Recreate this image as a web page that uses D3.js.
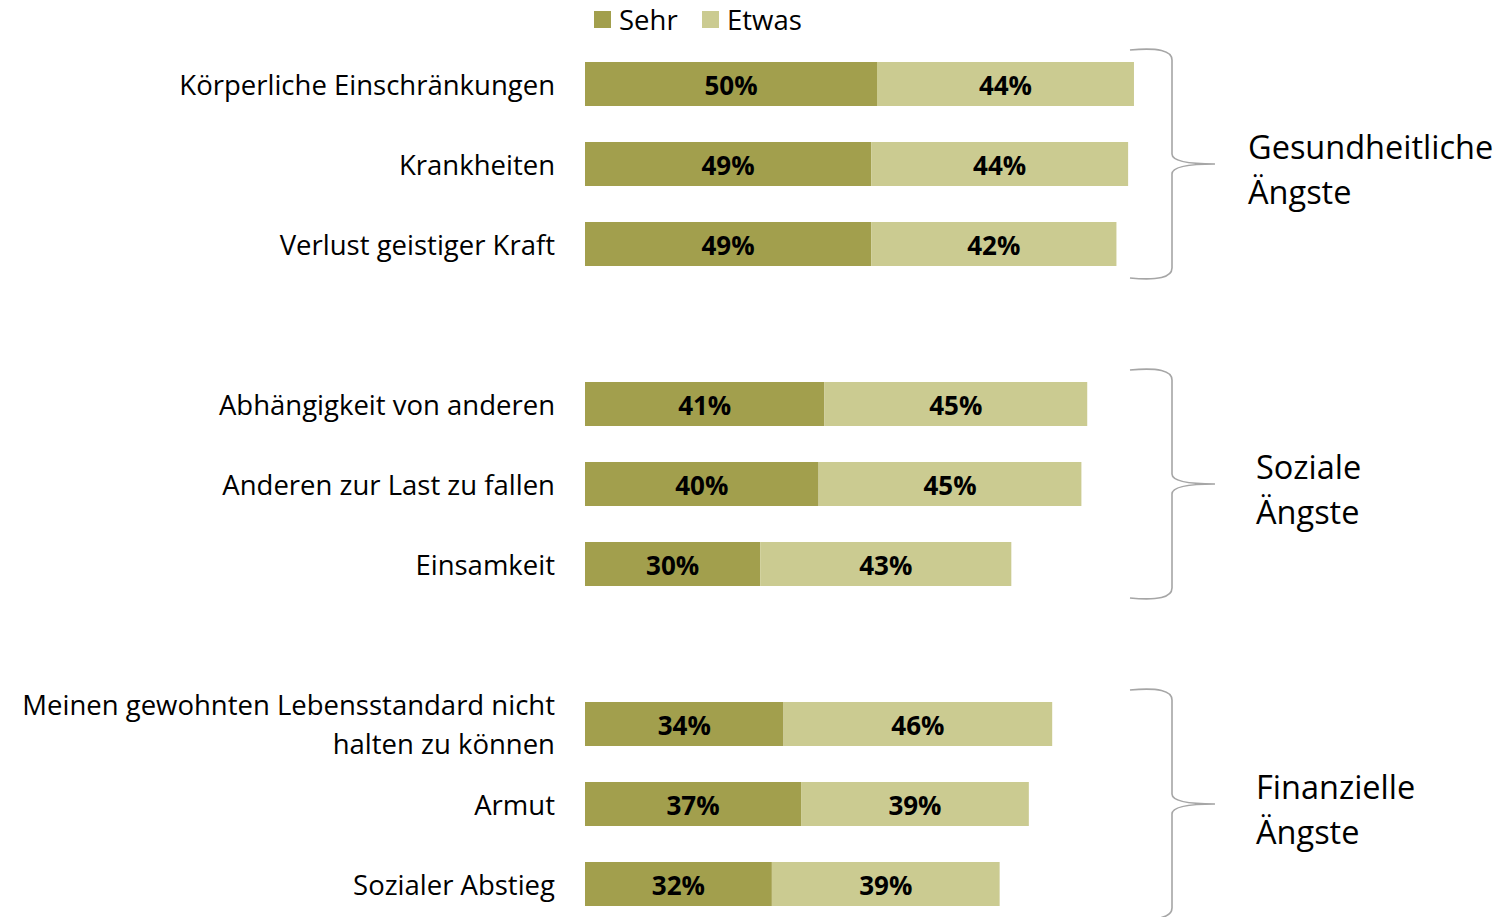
<!DOCTYPE html>
<html>
<head>
<meta charset="utf-8">
<script src="https://cdn.jsdelivr.net/npm/d3@7"></script>
<style>
  body { margin: 0; background: #fff; }
  svg { font-family: "Open Sans", sans-serif; }
</style>
</head>
<body>
<svg id="chart" width="1496" height="917"></svg>
<script>
// categories, with blank spacer rows between the groups
const CATEGORIES = [
  ['Körperliche Einschränkungen'],
  ['Krankheiten'],
  ['Verlust geistiger Kraft'],
  null,
  ['Abhängigkeit von anderen'],
  ['Anderen zur Last zu fallen'],
  ['Einsamkeit'],
  null,
  ['Meinen gewohnten Lebensstandard nicht', 'halten zu können'],
  ['Armut'],
  ['Sozialer Abstieg']
]
const SEHR = [50, 49, 49, null, 41, 40, 30, null, 34, 37, 32]
const ETWAS = [44, 44, 42, null, 45, 45, 43, null, 46, 39, 39]
const SERIES = ['Sehr', 'Etwas']
const COLORS = ['#a29f4d', '#cbcb91']
const GROUPS = [
  { lines: ['Gesundheitliche', 'Ängste'], first: 0, last: 2 },
  { lines: ['Soziale', 'Ängste'], first: 4, last: 6 },
  { lines: ['Finanzielle', 'Ängste'], first: 8, last: 10 }
]

const LABEL_SIZE = 27.5

const svg = d3.select('#chart')
const keys = CATEGORIES.map((c, i) => 'r' + i)

const x = d3.scaleLinear().domain([0, 100]).range([585, 1169])
const y = d3.scaleBand().domain(keys).range([44, 924])
  .paddingInner(0.45).paddingOuter(0.225)
const color = d3.scaleOrdinal().domain(SERIES).range(COLORS)

const rows = CATEGORIES.map((c, i) => ({ key: keys[i], label: c, sehr: SEHR[i], etwas: ETWAS[i] }))
  .filter(d => d.label)

// bars
const g = svg.append('g').attr('id', 'graph-g')
rows.forEach(d => {
  const segs = [
    { s: 'Sehr', x0: 0, x1: d.sehr, v: d.sehr },
    { s: 'Etwas', x0: d.sehr, x1: d.sehr + d.etwas, v: d.etwas }
  ]
  segs.forEach(seg => {
    g.append('rect')
      .attr('x', x(seg.x0))
      .attr('y', y(d.key))
      .attr('width', x(seg.x1) - x(seg.x0))
      .attr('height', y.bandwidth())
      .attr('fill', color(seg.s))
    g.append('text')
      .attr('x', (x(seg.x0) + x(seg.x1)) / 2)
      .attr('y', y(d.key) + y.bandwidth() / 2 + 1)
      .attr('text-anchor', 'middle')
      .attr('dominant-baseline', 'central')
      .attr('font-weight', 'bold')
      .attr('font-size', 26)
      .attr('fill', '#000')
      .text(seg.v + '%')
  })

  // category label
  const cy = y(d.key) + y.bandwidth() / 2
  const lh = 39
  const t = svg.append('text')
    .attr('text-anchor', 'end')
    .attr('font-size', LABEL_SIZE)
    .attr('fill', '#000')
  d.label.forEach((line, j) => {
    t.append('tspan')
      .attr('x', 555)
      .attr('y', cy + (j - (d.label.length - 1) / 2) * lh)
      .attr('dominant-baseline', 'central')
      .text(line)
  })
})

// legend
const legend = svg.append('g')
const legX = [594, 702]
SERIES.forEach((s, i) => {
  legend.append('rect')
    .attr('x', legX[i]).attr('y', 11)
    .attr('width', 17).attr('height', 17)
    .attr('fill', color(s))
  legend.append('text')
    .attr('x', legX[i] + 25).attr('y', 19)
    .attr('dominant-baseline', 'central')
    .attr('font-size', LABEL_SIZE)
    .text(s)
})

// group braces
GROUPS.forEach(gr => {
  const top = y(keys[gr.first]) - 12
  const bot = y(keys[gr.last]) + y.bandwidth() + 12
  const mid = (top + bot) / 2
  const xl = 1130, xv = 1172, xp = 1215
  const path = d3.path()
  path.moveTo(xl, top)
  path.quadraticCurveTo(xv, top - 4, xv, top + 10)
  path.lineTo(xv, mid - 10)
  path.quadraticCurveTo(xv, mid, xp, mid)
  path.moveTo(xp, mid)
  path.quadraticCurveTo(xv, mid, xv, mid + 10)
  path.lineTo(xv, bot - 10)
  path.quadraticCurveTo(xv, bot + 4, xl, bot)
  svg.append('path')
    .attr('d', path.toString())
    .attr('fill', 'none')
    .attr('stroke', '#a6a6a6')
    .attr('stroke-width', 1.6)

  const lx = gr.first === 0 ? 1248 : 1256
  const t = svg.append('text').attr('font-size', 32.5).attr('fill', '#000')
  gr.lines.forEach((line, j) => {
    t.append('tspan')
      .attr('x', lx)
      .attr('y', mid - 18 + j * 45)
      .attr('dominant-baseline', 'central')
      .text(line)
  })
})
</script>
</body>
</html>
